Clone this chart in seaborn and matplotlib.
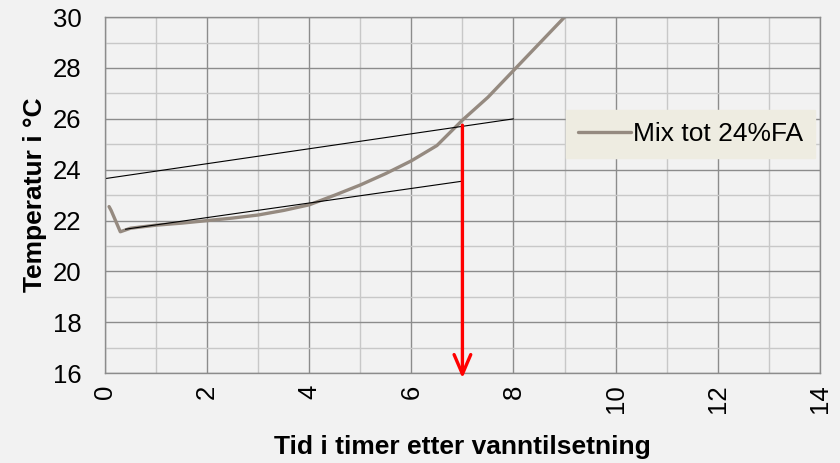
import matplotlib
matplotlib.use("Agg")
import matplotlib.pyplot as plt
import seaborn as sns
import pandas as pd
from matplotlib.ticker import MultipleLocator

tid = [0.08, 0.12, 0.3, 0.5, 1.0, 1.5, 2.0, 2.5, 3.0, 3.5, 4.0, 4.5, 5.0, 5.5,
       6.0, 6.5, 7.0, 7.5, 8.0, 8.5, 9.0, 9.1]
temp = [22.55, 22.4, 21.56, 21.7, 21.82, 21.9, 22.0, 22.1, 22.22, 22.4, 22.62,
        23.0, 23.4, 23.85, 24.35, 24.95, 25.95, 26.85, 27.9, 28.95, 30.0, 30.2]
serie = "Mix tot 24%FA"

# hand drawn tangent lines
upper_x = [0.0, 8.0]
upper_y = [23.65, 26.0]
lower_x = [0.4, 7.0]
lower_y = [21.66, 23.55]

# arrow at setting time
arrow_x = 7.0
arrow_top = 25.75
arrow_bottom = 15.8

df = pd.DataFrame({"Tid": tid, "Temp": temp, "Serie": serie})

sns.set_style("whitegrid", {"axes.facecolor": "#f2f2f2", "figure.facecolor": "#f2f2f2"})
plt.rcParams['font.family'] = ['Liberation Sans', 'DejaVu Sans']

fig, ax = plt.subplots(figsize=(8.4, 4.63), dpi=100)
fig.subplots_adjust(left=0.125, right=0.976, top=0.963, bottom=0.194)

ax.xaxis.set_major_locator(MultipleLocator(2))
ax.xaxis.set_minor_locator(MultipleLocator(1))
ax.yaxis.set_major_locator(MultipleLocator(2))
ax.yaxis.set_minor_locator(MultipleLocator(1))
ax.grid(which="major", color="#8c8c8c", lw=1.0)
ax.grid(which="minor", color="#c8c8c8", lw=1.0)
ax.set_axisbelow(True)

sns.lineplot(data=df, x="Tid", y="Temp", hue="Serie", palette=["#958a80"],
             lw=2.4, sort=False, ax=ax)

ax.plot(upper_x, upper_y, color="black", lw=0.8)
ax.plot(lower_x, lower_y, color="black", lw=0.8)

ax.annotate("", xy=(arrow_x, arrow_bottom), xytext=(arrow_x, arrow_top),
            annotation_clip=False,
            arrowprops=dict(arrowstyle="->,head_length=0.7,head_width=0.3",
                            color="#ff0000", lw=2.4, mutation_scale=20,
                            shrinkA=0, shrinkB=0))

ax.set_xlim(0, 14)
ax.set_ylim(16, 30)
for s in ax.spines.values():
    s.set_color("#8c8c8c")
    s.set_linewidth(1.0)

ax.tick_params(axis="both", which="both", length=0, labelcolor="black")
ax.tick_params(axis="y", labelsize=18.5, pad=17)
ax.tick_params(axis="x", labelsize=18.5, pad=8, labelrotation=90)

ax.set_xlabel("Tid i timer etter vanntilsetning", fontsize=19, fontweight="bold",
              color="black", labelpad=16)
ax.set_ylabel("Temperatur i °C", fontsize=19, fontweight="bold", color="black",
              labelpad=4)

leg = ax.legend(loc="upper left", bbox_to_anchor=(0.645, 0.739), borderaxespad=0,
                frameon=True, fontsize=19, handlelength=2.0, handletextpad=0.1,
                borderpad=0.45, labelcolor="black")
leg.get_frame().set_facecolor("#eeece1")
leg.get_frame().set_edgecolor("#eeece1")
leg.get_frame().set_alpha(1)
leg.get_frame().set_boxstyle("square", pad=0)

plt.savefig("out.png", dpi=100, facecolor="#f2f2f2")
